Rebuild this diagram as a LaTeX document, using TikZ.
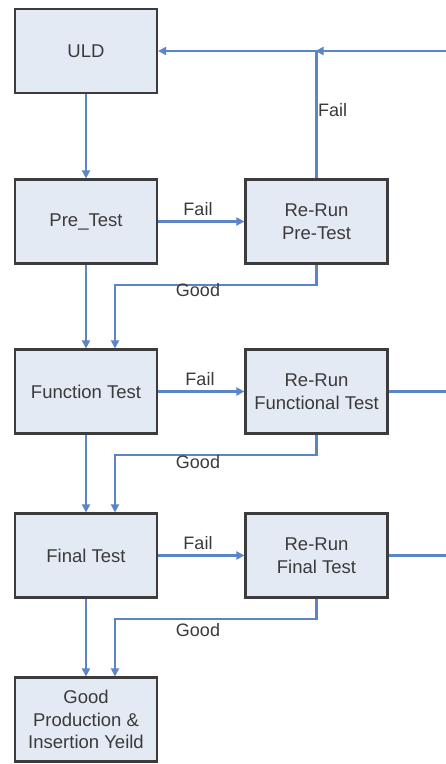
\documentclass[tikz,border=0pt]{standalone}
\usepackage{fontspec}
\setmainfont{Liberation Sans}
\usetikzlibrary{arrows.meta}

\definecolor{boxfill}{HTML}{E4EAF4}
\definecolor{boxline}{HTML}{3C3C3C}
\definecolor{flow}{HTML}{5B85C6}
\definecolor{txt}{HTML}{3A3A3A}

\tikzset{
  stepbox/.style={draw=boxline, line width=2.2pt, fill=boxfill,
    minimum width=142pt, minimum height=84pt, align=center, text=txt,
    font=\fontsize{18.5}{22.5}\selectfont, inner sep=0pt},
  wire/.style={draw=flow, line width=2.2pt},
  flowline/.style={wire, -{Triangle[length=8pt,width=8pt]}},
  lbl/.style={text=txt, font=\fontsize{18}{22}\selectfont, inner sep=0pt}
}

\begin{document}
\begin{tikzpicture}[x=1pt,y=-1pt]
  \fill[white] (0,0) rectangle (446,764);
  \useasboundingbox (0,0) rectangle (446,764);

  % main column
  \node[stepbox] (uld)  at (86,51)    {ULD};
  \node[stepbox] (pre)  at (86,221.5) {Pre\_Test};
  \node[stepbox] (fun)  at (86,391.5) {Function Test};
  \node[stepbox] (fin)  at (86,555.5) {Final Test};
  \node[stepbox] (good) at (86,719.5) {Good\\Production \&\\Insertion Yeild};

  % re-run column
  \node[stepbox] (rr1) at (316.5,221.5) {Re-Run\\Pre-Test};
  \node[stepbox] (rr2) at (316.5,391.5) {Re-Run\\Functional Test};
  \node[stepbox] (rr3) at (316.5,555.5) {Re-Run\\Final Test};

  % main flow
  \draw[flowline] (uld.south) -- (pre.north);
  \draw[flowline] (pre.south) -- (fun.north);
  \draw[flowline] (fun.south) -- (fin.north);
  \draw[flowline] (fin.south) -- (good.north);

  % fail branches
  \draw[flowline] (pre.east) -- (rr1.west);
  \draw[flowline] (fun.east) -- (rr2.west);
  \draw[flowline] (fin.east) -- (rr3.west);
  \node[lbl] (f1) at (198,209) {Fail};
  \node[lbl] (f2) at (200,379) {Fail};
  \node[lbl] (f3) at (198,543) {Fail};

  % good returns
  \draw[flowline] (rr1.south) -- ++(0,20) -| ([xshift=29pt]fun.north);
  \draw[flowline] (rr2.south) -- ++(0,20) -| ([xshift=29pt]fin.north);
  \draw[flowline] (rr3.south) -- ++(0,20) -| ([xshift=29pt]good.north);
  \node[lbl] (g1) at (198,290) {Good};
  \node[lbl] (g2) at (198,462) {Good};
  \node[lbl] (g3) at (198,630) {Good};

  % return to ULD
  \coordinate (rtop) at (446,51);
  \coordinate (j) at (rr1.north |- uld.east);
  \draw[flowline, shorten >=-1pt] (rtop) -- (j);
  \draw[flowline] (rr1.north) -- (j) -- (uld.east);
  \node[lbl, anchor=west] (f0) at (318,110) {Fail};

  % outgoing loops on the right
  \coordinate (r2) at (rr2.east -| rtop);
  \coordinate (r3) at (rr3.east -| rtop);
  \draw[wire] (rr2.east) -- (r2);
  \draw[wire] (rr3.east) -- (r3);
\end{tikzpicture}
\end{document}
